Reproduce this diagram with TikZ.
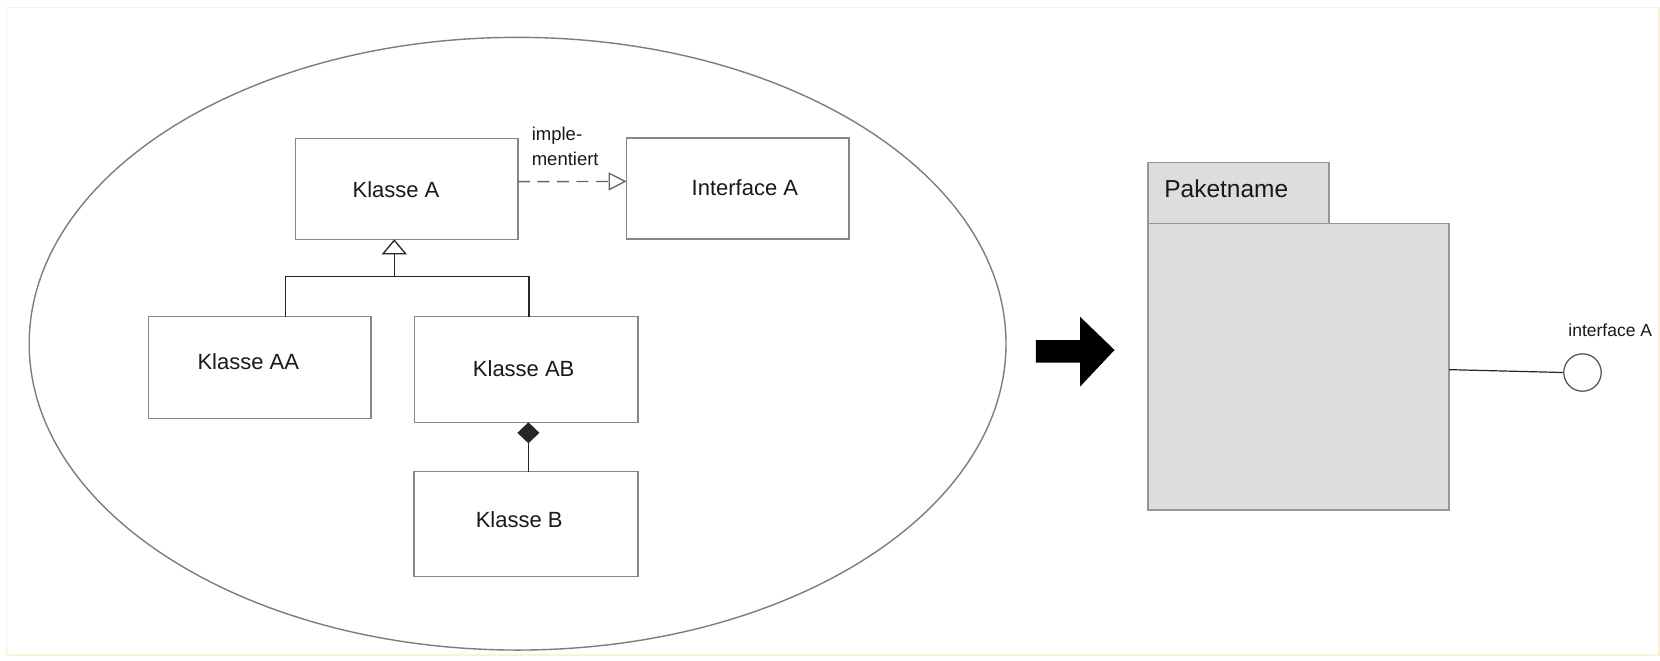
\documentclass[tikz,border=0pt]{standalone}
\usepackage{fontspec}
\setmainfont{Liberation Sans}
\usetikzlibrary{arrows.meta,shapes.geometric}
\definecolor{boxgray}{RGB}{135,135,135}
\definecolor{elgray}{RGB}{125,125,125}
\definecolor{pkgfill}{RGB}{220,221,223}
\definecolor{pkgline}{RGB}{150,150,150}
\definecolor{frameyel}{RGB}{250,242,214}
\tikzset{
  classbox/.style={draw=boxgray, line width=1.4pt, fill=white, inner sep=0pt, outer sep=0pt, rectangle},
  boxlabel/.style={inner sep=0pt, font=\fontsize{22}{26}\selectfont, text=black!90},
  smalllabel/.style={inner sep=0pt, font=\fontsize{18.5}{25}\selectfont, text=black!90},
  conn/.style={line width=1.4pt, black!85},
  pkgbox/.style={draw=pkgline, line width=1.4pt, fill=pkgfill, inner sep=0pt, outer sep=0pt, rectangle},
}
\begin{document}
\begin{tikzpicture}[x=1pt,y=-1pt]
\useasboundingbox (0,0) rectangle (1660,661);
\fill[white] (0,0) rectangle (1660,661);
\draw[frameyel, line width=1.2pt] (6.5,7.5) rectangle (1659,655);

% ellipse
\node[ellipse, draw=elgray, line width=1.4pt, minimum width=976.8pt, minimum height=612.7pt, inner sep=0pt] (scope) at (517.6,343.7) {};

% class boxes
\node[classbox, minimum width=222.4pt, minimum height=101pt] (ka) at (406.7,188.8) {};
\node[classbox, minimum width=222.4pt, minimum height=101pt] (ia) at (737.8,188.5) {};
\node[classbox, minimum width=222.7pt, minimum height=101.6pt] (kaa) at (259.7,367.5) {};
\node[classbox, minimum width=223.5pt, minimum height=105.6pt] (kab) at (526.2,369.5) {};
\node[classbox, minimum width=223.8pt, minimum height=105pt] (kb) at (526,524.2) {};

\node[boxlabel] (tka) at (396,190) {Klasse A};
\node[boxlabel] (tia) at (744.9,187.8) {Interface A};
\node[boxlabel] (tkaa) at (248.3,361.3) {Klasse AA};
\node[boxlabel] (tkab) at (523.7,368.3) {Klasse AB};
\node[boxlabel] (tkb) at (519.2,520) {Klasse B};

% realization
\draw[line width=1.4pt, black!60, dash pattern=on 12pt off 7.5pt,
  -{Triangle[open, length=18pt, width=18pt, line width=1.3pt]}]
  ([yshift=7.1pt]ka.east) -- ([yshift=7.1pt]ia.west);
\node[smalllabel, anchor=north west, align=left] (impl) at (531.6,127) {imple-\\mentiert};

% generalization
\coordinate (jn) at (394.3,276.7);
\draw[conn] ([xshift=25.9pt]kaa.north) |- (jn) -| ([xshift=2.6pt]kab.north);
\draw[conn, -{Triangle[open, length=15pt, width=25pt, line width=1.3pt]}] (jn) -- ([xshift=-12.4pt]ka.south);

% composition
\draw[conn, {Diamond[length=21pt, width=22pt]}-] ([xshift=2.2pt]kab.south) -- ([xshift=2.4pt]kb.north);

% big arrow
\fill[black] (1035.8,340) -- (1080,340) -- (1080,316.7) -- (1114.5,350) -- (1080,386.7) -- (1080,362.7) -- (1035.8,362.7) -- cycle;

% package
\node[pkgbox, minimum width=301pt, minimum height=286.7pt] (body) at (1298.6,366.65) {};
\node[pkgbox, minimum width=181pt, minimum height=61pt] (tab) at (1238.6,192.8) {};
\node[boxlabel, anchor=west, font=\fontsize{24.5}{28}\selectfont] (pname) at (1164.1,188.7) {Paketname};

% lollipop
\node[circle, draw=black!70, line width=1.2pt, fill=white, minimum size=37.4pt, inner sep=0pt] (iface) at (1582.5,372.5) {};
\draw[conn, line width=1.2pt] ([yshift=-3pt]body.east) -- (iface.west);
\node[smalllabel, anchor=west, font=\fontsize{17.5}{20}\selectfont] (iname) at (1568.2,330) {interface A};
\end{tikzpicture}
\end{document}
